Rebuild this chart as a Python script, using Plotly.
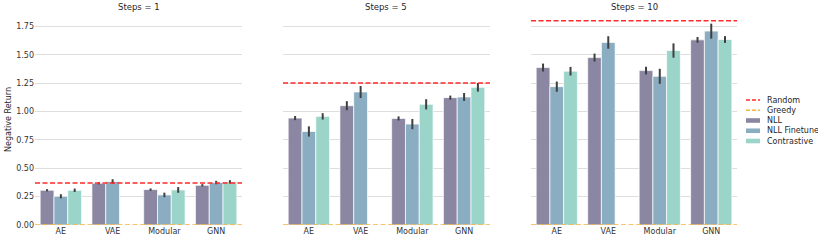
import plotly.graph_objects as go

categories = ["AE", "VAE", "Modular", "GNN"]
steps = ["Steps = 1", "Steps = 5", "Steps = 10"]
series = ["NLL", "NLL Finetune", "Contrastive"]
colors = ["#8b86a1", "#8badc1", "#9bd4c9"]

# values[panel][series] -> per category
values = [
    [[0.306, 0.368, 0.312, 0.350],
     [0.253, 0.383, 0.265, 0.374],
     [0.306, None, 0.309, 0.380]],
    [[0.942, 1.051, 0.939, 1.122],
     [0.824, 1.172, 0.889, 1.128],
     [0.957, None, 1.063, 1.213]],
    [[1.387, 1.475, 1.360, 1.631],
     [1.219, 1.608, 1.310, 1.708],
     [1.355, None, 1.537, 1.634]],
]
errors = [
    [[0.010, 0.010, 0.010, 0.010],
     [0.018, 0.020, 0.020, 0.015],
     [0.015, 0.0, 0.025, 0.015]],
    [[0.018, 0.040, 0.018, 0.018],
     [0.045, 0.053, 0.045, 0.035],
     [0.028, 0.0, 0.045, 0.038]],
    [[0.035, 0.035, 0.034, 0.025],
     [0.045, 0.055, 0.066, 0.066],
     [0.038, 0.0, 0.063, 0.030]],
]
random_vals = [0.37, 1.25, 1.80]
greedy_vals = [0.0, 0.0, 0.0]

RED = "#ff2a2a"
ORANGE = "#f6b13f"
DASH = "5px,2.5px"

W, H = 818, 242
ML, MR, MT, MB = 35, 81, 15, 17
PW, PH = W - ML - MR, H - MT - MB


def px_x(px):
    return (px - ML) / PW


def px_y(py):
    return (H - MB - py) / PH


fig = go.Figure()
domains = [[0.0, 0.2949], [0.3533, 0.6481], [0.7066, 1.0]]
for p in range(3):
    xa = "x" if p == 0 else f"x{p+1}"
    ya = "y" if p == 0 else f"y{p+1}"
    for s in range(3):
        fig.add_trace(go.Bar(
            x=categories, y=values[p][s], name=series[s],
            marker=dict(color=colors[s], line=dict(color="rgba(255,255,255,0.7)", width=1)),
            error_y=dict(type="data", array=errors[p][s], color="#3f3f3f", thickness=2, width=0),
            xaxis=xa, yaxis=ya, offsetgroup=str(s), showlegend=False,
        ))
    fig.add_shape(type="line", xref=f"{xa} domain", yref=ya, x0=0, x1=1,
                  y0=greedy_vals[p], y1=greedy_vals[p],
                  line=dict(color=ORANGE, width=1.5, dash=DASH))
    fig.add_shape(type="line", xref=f"{xa} domain", yref=ya, x0=0, x1=1,
                  y0=random_vals[p], y1=random_vals[p],
                  line=dict(color=RED, width=1.5, dash=DASH))
    fig.add_annotation(text=steps[p], xref="paper", yref="paper",
                       x=(domains[p][0] + domains[p][1]) / 2, y=px_y(7),
                       showarrow=False, font=dict(size=8.5, color="#262626"),
                       xanchor="center", yanchor="middle")

# legend (drawn manually to match matplotlib's compact spacing)
legend_items = [("Random", "line", RED), ("Greedy", "line", ORANGE),
                ("NLL", "box", colors[0]), ("NLL Finetune", "box", colors[1]),
                ("Contrastive", "box", colors[2])]
for i, (label, kind, col) in enumerate(legend_items):
    cy = 100 + i * 10.25
    if kind == "line":
        fig.add_shape(type="line", xref="paper", yref="paper",
                      x0=px_x(746), x1=px_x(760), y0=px_y(cy), y1=px_y(cy),
                      line=dict(color=col, width=1.5, dash="4px,2px"))
    else:
        fig.add_shape(type="rect", xref="paper", yref="paper",
                      x0=px_x(746), x1=px_x(760), y0=px_y(cy - 2.3), y1=px_y(cy + 2.3),
                      line=dict(width=0), fillcolor=col)
    fig.add_annotation(text=label, xref="paper", yref="paper",
                       x=px_x(765), y=px_y(cy), showarrow=False,
                       xanchor="left", yanchor="middle",
                       font=dict(size=8, color="#262626"))

axis_common = dict(showgrid=False, zeroline=False, showline=False, ticks="",
                   tickfont=dict(size=8, color="#333333"))
yaxis_common = dict(range=[0, 1.85], showgrid=True, gridcolor="#dedede", gridwidth=1,
                    zeroline=False, showline=False, ticks="",
                    tickvals=[0, 0.25, 0.5, 0.75, 1.0, 1.25, 1.5, 1.75],
                    tickformat=".2f", tickfont=dict(size=8, color="#333333"))
layout = dict(
    width=W, height=H,
    margin=dict(l=ML, r=MR, t=MT, b=MB),
    plot_bgcolor="white", paper_bgcolor="white",
    barmode="group", bargap=0.2, bargroupgap=0.0,
    font=dict(family="DejaVu Sans", size=8, color="#262626"),
    showlegend=False,
)
for p in range(3):
    k = "" if p == 0 else str(p + 1)
    layout[f"xaxis{k}"] = dict(domain=domains[p], anchor=f"y{k}", automargin=False, **axis_common)
    ya = dict(anchor=f"x{k}", automargin=False, **yaxis_common)
    if p > 0:
        ya["matches"] = "y"
        ya["showticklabels"] = False
    layout[f"yaxis{k}"] = ya
fig.update_layout(**layout)
fig.add_annotation(text="Negative Return", xref="paper", yref="paper",
                   x=px_x(8), y=0.5, textangle=-90, showarrow=False,
                   font=dict(size=8, color="#262626"), xanchor="center", yanchor="middle")

fig.write_html("out.html", config={"displayModeBar": False},
               post_script="document.body.style.margin='0';")
